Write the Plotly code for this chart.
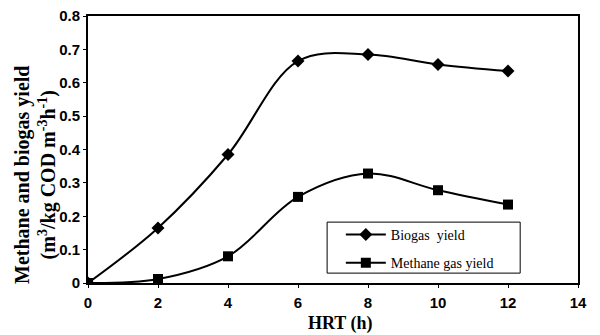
import plotly.graph_objects as go

hrt = [0, 2, 4, 6, 8, 10, 12]
biogas = [0, 0.165, 0.385, 0.665, 0.685, 0.655, 0.635]
methane = [0, 0.012, 0.08, 0.258, 0.328, 0.278, 0.235]

fig = go.Figure()
fig.add_trace(go.Scatter(x=hrt, y=biogas, name="Biogas  yield", mode="lines+markers",
                         legendgroup="a",
                         line=dict(color="black", width=2, shape="spline", smoothing=1.0),
                         marker=dict(symbol="diamond", size=10, color="black")))
fig.add_trace(go.Scatter(x=hrt, y=methane, name="Methane gas yield", mode="lines+markers",
                         legendgroup="b",
                         line=dict(color="black", width=2, shape="spline", smoothing=1.0),
                         marker=dict(symbol="square", size=10, color="black")))

# legend frame
fig.add_shape(type="rect", xref="paper", yref="paper", x0=0.488, x1=0.882, y0=0.037, y1=0.228,
              line=dict(color="black", width=1), fillcolor="white", layer="above")

# axis titles
fig.add_annotation(text="<b>Methane and biogas yield<br>(m<sup>3</sup>/kg COD m<sup>-3</sup>h<sup>-1</sup>)</b>",
                   xref="paper", yref="paper", x=-0.106, y=0.405, textangle=-90,
                   showarrow=False, xanchor="center", yanchor="middle",
                   font=dict(family="Liberation Serif", size=20, color="black"))
fig.add_annotation(text="<b>HRT (h)</b>", xref="paper", yref="paper", x=0.516, y=-0.15,
                   showarrow=False, xanchor="center", yanchor="middle",
                   font=dict(family="Liberation Serif", size=18, color="black"))

fig.update_layout(
    width=600, height=335,
    margin=dict(l=88, r=22, t=16, b=52),
    paper_bgcolor="white", plot_bgcolor="white",
    showlegend=True,
    legend=dict(x=0.516, y=0.24, xanchor="left", yanchor="top",
                borderwidth=0, bgcolor="rgba(0,0,0,0)",
                font=dict(family="Liberation Serif", size=14, color="black"),
                itemwidth=40, tracegroupgap=7),
    xaxis=dict(range=[0, 14], dtick=2, showline=True, linecolor="black", linewidth=2,
               mirror=True, ticks="outside", ticklen=3, tickcolor="black", showgrid=False,
               zeroline=False, ticklabelstandoff=2, automargin=False,
               tickfont=dict(family="Liberation Sans", size=15, color="black", weight="bold")),
    yaxis=dict(range=[0, 0.8], dtick=0.1, showline=True, linecolor="black", linewidth=2,
               mirror=True, ticks="outside", ticklen=3, tickcolor="black", showgrid=False,
               zeroline=False, tickformat=".1~f", automargin=False,
               tickfont=dict(family="Liberation Sans", size=15, color="black", weight="bold")),
)

fig.write_html("out.html")
